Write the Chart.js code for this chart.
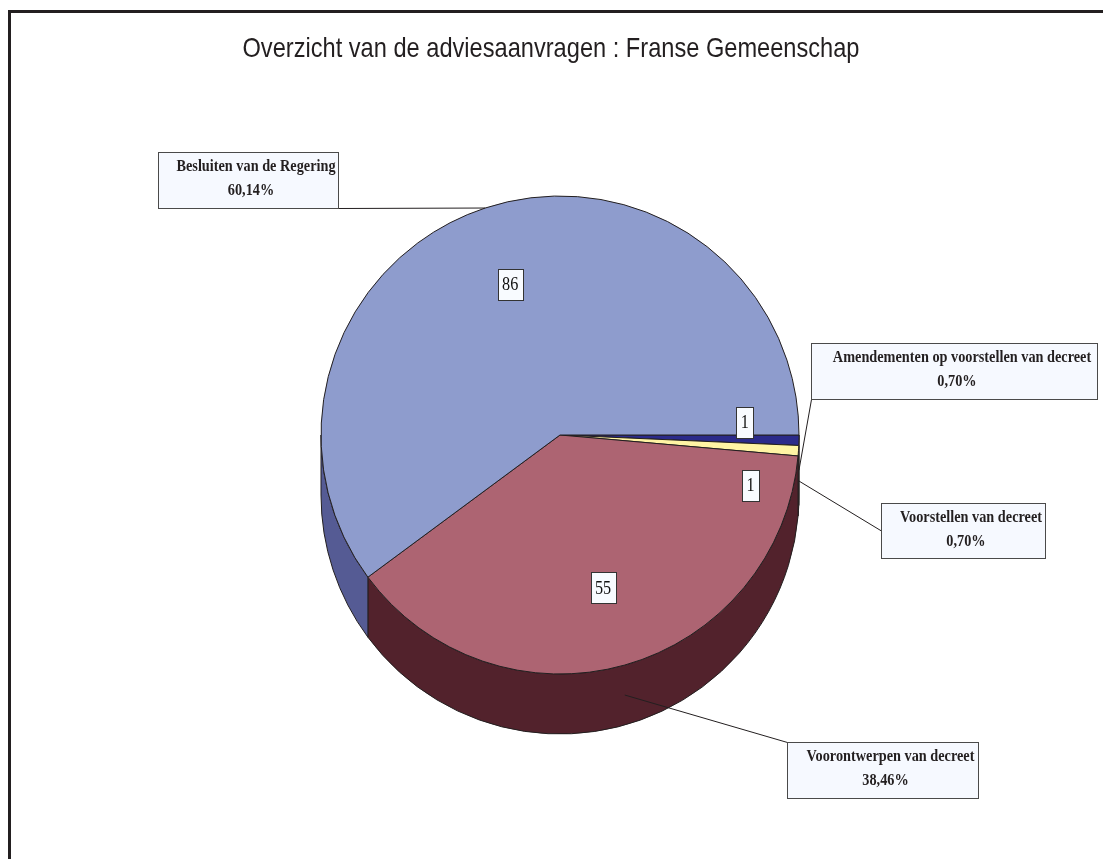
<!DOCTYPE html>
<html>
<head>
<meta charset="utf-8">
<script src="https://cdn.jsdelivr.net/npm/chart.js@4"></script>
<style>
  html, body { margin: 0; padding: 0; background: #fff; }
  #chart { display: block; }
</style>
</head>
<body>
<canvas id="chart" width="1103" height="859"></canvas>
<script>
// data
const categories = ['Amendementen op voorstellen van decreet', 'Voorstellen van decreet', 'Voorontwerpen van decreet', 'Besluiten van de Regering'];
const counts = [1, 1, 55, 86];
const chartTitle = 'Overzicht van de adviesaanvragen : Franse Gemeenschap';

// styles
const topColors = ['#2B2A8A', '#FFF4A4', '#AD6472', '#8E9CCD'];
const sideColors = ['#1C1B5E', '#B5AD70', '#52222C', '#555B94'];
const edgeColor = '#231f20';

// layout
const pie = { cx: 560, cy: 435, r: 239, depth: 60 };
const callouts = [
    { x: 811, y: 343, w: 286, h: 56, anchor: 'bl' },
    { x: 881, y: 503, w: 164, h: 55, anchor: 'lm' },
    { x: 787, y: 742, w: 191, h: 56, anchor: 'tl' },
    { x: 158, y: 152, w: 180, h: 56, anchor: 'br' }
];
const valueNudge = [[26, -16], [32, 40], [0, 0], [0, 0]];

const total = counts.reduce((a, b) => a + b, 0);
const pct = v => (v / total * 100).toFixed(2).replace('.', ',') + '%';

function squeezedText(ctx, text, x, y, sx) {
    ctx.save();
    ctx.translate(x, y);
    ctx.scale(sx, 1);
    ctx.fillText(text, 0, 0);
    ctx.restore();
}

// frame + title behind everything
const backdrop = {
    id: 'backdrop',
    beforeDraw(chart) {
        const ctx = chart.ctx;
        ctx.save();
        ctx.fillStyle = '#fff';
        ctx.fillRect(0, 0, chart.width, chart.height);
        ctx.fillStyle = edgeColor;
        ctx.fillRect(8, 10, 3, chart.height - 10);
        ctx.fillRect(8, 10, chart.width - 8, 3);

        ctx.font = '28px "Liberation Sans Narrow", "Liberation Sans", Arial, sans-serif';
        ctx.fillStyle = '#231f20';
        ctx.textAlign = 'center';
        ctx.textBaseline = 'alphabetic';
        const w = ctx.measureText(chartTitle).width;
        squeezedText(ctx, chartTitle, 551, 57, Math.min(1, 617 / w));
        ctx.restore();
    }
};

// side walls of the 3D pie, from the arc elements
const depthWalls = {
    id: 'depthWalls',
    beforeDatasetsDraw(chart) {
        const ctx = chart.ctx;
        const d = pie.depth;
        chart.getDatasetMeta(0).data.forEach((el, i) => {
            const p = el.getProps(['x', 'y', 'startAngle', 'endAngle', 'outerRadius'], true);
            const a0 = Math.max(p.startAngle, 0);
            const a1 = Math.min(p.endAngle, Math.PI);
            if (a1 <= a0) return;
            const r = p.outerRadius;
            ctx.save();
            ctx.beginPath();
            ctx.arc(p.x, p.y, r, a0, a1);
            ctx.lineTo(p.x + r * Math.cos(a1), p.y + d + r * Math.sin(a1));
            ctx.arc(p.x, p.y + d, r, a1, a0, true);
            ctx.closePath();
            ctx.fillStyle = sideColors[i];
            ctx.fill();
            ctx.strokeStyle = edgeColor;
            ctx.lineWidth = 1;
            ctx.stroke();
            ctx.restore();
        });
    }
};

// value boxes and callouts
const pieLabels = {
    id: 'pieLabels',
    afterDatasetsDraw(chart) {
        const ctx = chart.ctx;
        const meta = chart.getDatasetMeta(0);
        ctx.save();
        ctx.lineWidth = 1;
        meta.data.forEach((el, i) => {
            const p = el.getProps(['x', 'y', 'startAngle', 'endAngle', 'outerRadius'], true);
            const mid = (p.startAngle + p.endAngle) / 2;
            const r = p.outerRadius;

            // leader line
            const c = callouts[i];
            let ex = p.x + r * Math.cos(mid);
            let ey = p.y + r * Math.sin(mid);
            const m = ((mid % (2 * Math.PI)) + 2 * Math.PI) % (2 * Math.PI);
            if (m > 0 && m < Math.PI) ey += pie.depth / 2;
            let ax = c.x, ay = c.y;
            if (c.anchor === 'bl') { ax = c.x; ay = c.y + c.h; }
            if (c.anchor === 'br') { ax = c.x + c.w; ay = c.y + c.h; }
            if (c.anchor === 'lm') { ax = c.x; ay = c.y + c.h / 2; }
            if (c.anchor === 'tl') { ax = c.x; ay = c.y; }
            ctx.strokeStyle = edgeColor;
            ctx.beginPath();
            ctx.moveTo(ax + 0.5, ay + 0.5);
            ctx.lineTo(ex, ey);
            ctx.stroke();

            // callout box
            ctx.fillStyle = '#F6F9FF';
            ctx.fillRect(c.x, c.y, c.w, c.h);
            ctx.strokeStyle = '#4a4a4a';
            ctx.strokeRect(c.x + 0.5, c.y + 0.5, c.w, c.h);
            ctx.fillStyle = '#231f20';
            ctx.textAlign = 'center';
            ctx.textBaseline = 'alphabetic';
            ctx.font = 'bold 17px "Liberation Serif", "Times New Roman", serif';
            squeezedText(ctx, categories[i], c.x + c.w / 2 + 8, c.y + 19, 0.84);
            squeezedText(ctx, pct(counts[i]), c.x + c.w / 2 + 3, c.y + 43, 0.84);

            // value box
            const vx = p.x + r * 0.665 * Math.cos(mid) + valueNudge[i][0];
            const vy = p.y + r * 0.665 * Math.sin(mid) + valueNudge[i][1];
            ctx.font = '18px "Liberation Serif", "Times New Roman", serif';
            const txt = String(counts[i]);
            const tw = ctx.measureText(txt).width * 0.9;
            const bw = Math.round(tw + 9), bh = 31;
            const bx = Math.round(vx - bw / 2), by = Math.round(vy - bh / 2);
            ctx.fillStyle = '#F8FBFF';
            ctx.fillRect(bx, by, bw, bh);
            ctx.strokeStyle = '#333';
            ctx.strokeRect(bx + 0.5, by + 0.5, bw, bh);
            ctx.fillStyle = '#111';
            ctx.textBaseline = 'middle';
            squeezedText(ctx, txt, vx, vy + 1, 0.9);
        });
        ctx.restore();
    }
};

const chart = document.querySelector('#chart').getContext('2d');

new Chart(chart, {
    type: 'pie',
    data: {
        labels: categories,
        datasets: [{
            data: counts,
            backgroundColor: topColors,
            borderColor: edgeColor,
            borderWidth: 1
        }]
    },
    options: {
        responsive: false,
        animation: false,
        rotation: 90,
        radius: pie.r,
        layout: {
            padding: {
                left: pie.cx - pie.r - 20,
                right: 1103 - pie.cx - pie.r - 20,
                top: pie.cy - pie.r - 20,
                bottom: 859 - pie.cy - pie.r - 20
            }
        },
        events: [],
        plugins: {
            legend: { display: false },
            tooltip: { enabled: false },
            title: { display: false }
        }
    },
    plugins: [backdrop, depthWalls, pieLabels]
});
</script>
</body>
</html>
